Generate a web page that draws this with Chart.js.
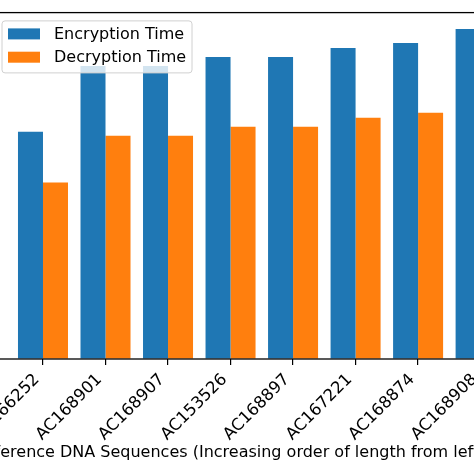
<!DOCTYPE html>
<html>
<head>
<meta charset="utf-8">
<script src="https://cdn.jsdelivr.net/npm/chart.js@4.4.1/dist/chart.umd.min.js"></script>
<style>
    html, body { margin: 0; padding: 0; width: 474px; height: 474px; overflow: hidden; background: #fff; }
    /* the picture is a crop of a wider figure, so the canvas hangs off the left edge */
    #wrap { position: absolute; left: -90px; top: 0; }
</style>
</head>
<body>
<div id="wrap"><canvas id="timeChart" width="640" height="474"></canvas></div>
<script>
// Encryption / decryption time per reference sequence
const sequences = ['AC166252', 'AC168901', 'AC168907', 'AC153526', 'AC168897', 'AC167221', 'AC168874', 'AC168908'];
const encryptionTimes = [2.28, 2.94, 2.94, 3.03, 3.03, 3.12, 3.17, 3.31];
const decryptionTimes = [1.77, 2.24, 2.24, 2.33, 2.33, 2.42, 2.47, 2.61];
const xTitle = 'Reference DNA Sequences (Increasing order of length from left to right)';

const BLUE = '#1f77b4';
const ORANGE = '#ff7f0e';
const FONT = 'DejaVu Sans';

Chart.defaults.font.family = FONT;
Chart.defaults.font.size = 16;
Chart.defaults.color = '#000';

// matplotlib style: 5% margin around the bars
const xMin = -0.4 - 0.39;
const xMax = sequences.length - 1 + 0.4 + 0.39;
const yMax = Math.max(...encryptionTimes, ...decryptionTimes) * 1.05;

// box around the axes, drawn over the bars like matplotlib spines
const spines = {
    id: 'spines',
    afterDatasetsDraw(chart) {
        const { ctx, chartArea: a } = chart;
        ctx.save();
        ctx.strokeStyle = '#000';
        ctx.lineWidth = 1.3;
        ctx.strokeRect(a.left, a.top, a.right - a.left, a.bottom - a.top);
        ctx.restore();
    }
};

// x title drawn by hand: the built-in one gets squeezed to the axis width
const xLabel = {
    id: 'xLabel',
    afterDraw(chart) {
        const { ctx, chartArea: a } = chart;
        ctx.save();
        ctx.font = '16px "' + FONT + '"';
        ctx.fillStyle = '#000';
        ctx.textAlign = 'center';
        ctx.textBaseline = 'middle';
        ctx.fillText(xTitle, (a.left + a.right) / 2, chart.height - 21);
        ctx.restore();
    }
};

// legend inside the axes, upper left, on top of the bars
const innerLegend = {
    id: 'innerLegend',
    afterDraw(chart) {
        const { ctx, chartArea: a } = chart;
        const left = a.left + 8.4;
        const top = a.top + 8.3;
        const w = 190, h = 52;
        ctx.save();
        ctx.beginPath();
        ctx.roundRect(left, top, w, h, 3);
        ctx.fillStyle = 'rgba(255,255,255,0.8)';
        ctx.fill();
        ctx.strokeStyle = '#d0d0d0';
        ctx.lineWidth = 1;
        ctx.stroke();
        ctx.font = '16px "' + FONT + '"';
        ctx.textBaseline = 'middle';
        chart.data.datasets.forEach((ds, i) => {
            const cy = top + 13 + i * 23.3;
            ctx.fillStyle = ds.backgroundColor;
            ctx.fillRect(left + 6, cy - 5.5, 32, 11);
            ctx.fillStyle = '#000';
            ctx.fillText(ds.label, left + 52, cy + 1);
        });
        ctx.restore();
    }
};

new Chart(document.getElementById('timeChart').getContext('2d'), {
    type: 'bar',
    data: {
        datasets: [
            {
                label: 'Encryption Time',
                data: encryptionTimes.map((v, i) => ({ x: i, y: v })),
                backgroundColor: BLUE,
                borderWidth: 0
            },
            {
                label: 'Decryption Time',
                data: decryptionTimes.map((v, i) => ({ x: i, y: v })),
                backgroundColor: ORANGE,
                borderWidth: 0
            }
        ]
    },
    options: {
        responsive: false,
        animation: false,
        categoryPercentage: 0.8,
        barPercentage: 1.0,
        layout: { padding: { top: 11, right: 20, bottom: 0, left: 0 } },
        plugins: {
            legend: { display: false },
            tooltip: { enabled: false }
        },
        scales: {
            x: {
                type: 'linear',
                offset: false,
                min: xMin,
                max: xMax,
                afterBuildTicks: (scale) => {
                    scale.ticks = sequences.map((s, i) => ({ value: i }));
                },
                afterFit: (scale) => { scale.height = 115; },
                ticks: {
                    autoSkip: false,
                    maxRotation: 45,
                    minRotation: 45,
                    padding: 5,
                    labelOffset: -6,
                    font: { size: 16.5 },
                    callback: (value) => sequences[value]
                },
                grid: {
                    offset: false,
                    drawOnChartArea: false,
                    drawTicks: true,
                    tickLength: 6,
                    color: '#000',
                    lineWidth: 1.2
                },
                border: { display: false },
                title: { display: false }
            },
            y: {
                min: 0,
                max: yMax,
                afterFit: (scale) => { scale.width = 83.6; },
                grid: {
                    drawOnChartArea: false,
                    tickLength: 5,
                    color: '#000'
                },
                border: { display: false },
                ticks: { padding: 3 }
            }
        }
    },
    plugins: [spines, xLabel, innerLegend]
});
</script>
</body>
</html>
